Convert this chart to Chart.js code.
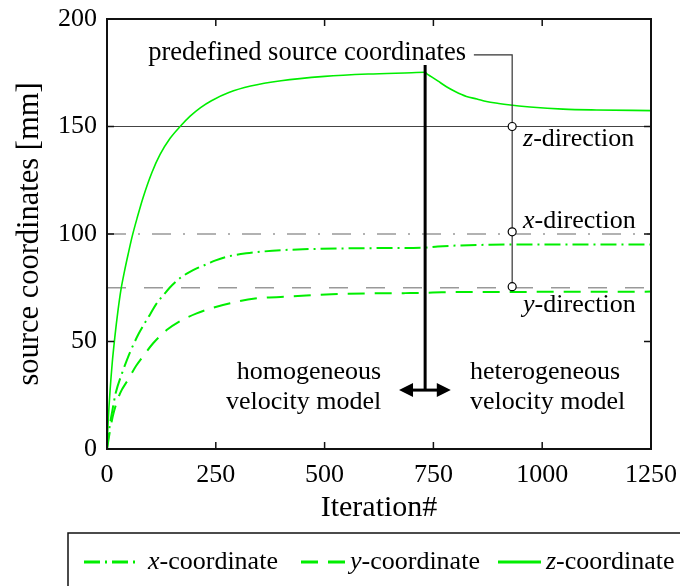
<!DOCTYPE html>
<html>
<head>
<meta charset="utf-8">
<script src="https://cdn.jsdelivr.net/npm/chart.js@4.4.0/dist/chart.umd.min.js"></script>
<style>
  html, body { margin: 0; padding: 0; background: #fff; }
  #wrap { width: 680px; height: 586px; }
</style>
</head>
<body>
<div id="wrap"><canvas id="myChart" width="680" height="586"></canvas></div>
<script>
const SERIF = '"Liberation Serif", "DejaVu Serif", serif';
const GREEN = '#00ee00';

// data
const xIter = [0, 5, 12, 20, 35, 45, 55, 73, 87, 99, 113, 133, 150, 172, 206, 230, 248, 275, 320, 380, 450, 550, 650, 730, 760, 800, 880, 1000, 1250];
const xValues = [0, 9, 17.5, 26, 35.5, 41, 46, 53.7, 58.7, 62.6, 67.4, 72.4, 76.3, 80.1, 84, 86, 87.6, 89.4, 91, 92.2, 92.9, 93.3, 93.5, 93.7, 94.2, 94.6, 95, 95.1, 95.1];

const yIter = [0, 4, 10, 16, 30, 48, 67, 85, 106, 137, 168, 206, 240, 283, 340, 428, 516, 600, 685, 730, 769, 853, 1000, 1250];
const yValues = [0, 5, 12, 17.4, 25.9, 32.1, 38.7, 43.7, 49.2, 55.3, 59.5, 63.1, 65.5, 67.8, 70, 71, 72, 72.4, 72.5, 72.6, 72.9, 73, 73.1, 73.2];

const zIter = [0, 1, 3, 7, 12, 18, 25, 32, 40, 49, 58, 70, 83, 103, 122, 145, 168, 191, 215, 240, 280, 330, 400, 500, 600, 700, 730, 735, 745, 760, 780, 800, 826, 850, 872, 900, 922, 972, 1048, 1125, 1250];
const zValues = [0, 5.5, 14, 27, 40, 52, 64, 74, 82.5, 91, 99, 108, 117, 128.5, 137, 144.5, 150, 154.8, 158.8, 162, 165.8, 168.8, 171.3, 173.3, 174.4, 175, 175.2, 174.5, 173.2, 171.2, 168.5, 166.3, 164, 162.8, 161.6, 160.7, 160.1, 159.1, 158.1, 157.7, 157.4];

const xTicks = [0, 250, 500, 750, 1000, 1250];
const yTicks = [0, 50, 100, 150, 200];

// predefined source coordinates (z, x, y)
const refValues = [150, 100, 75];
const refMarkers = [150, 101, 75.5];
const switchIter = 731;

const refStyles = [
  { color: '#444', width: 1, dash: [] },
  { color: '#999', width: 1.3, dash: [19, 12, 2, 12] },
  { color: '#999', width: 1.3, dash: [19, 18] }
];

function pts(xs, ys) { return xs.map((v, i) => ({ x: v, y: ys[i] })); }

function richText(ctx, parts, x, y, align, size) {
  const fonts = parts.map(p => (p[1] ? 'italic ' : '') + (size || 26) + 'px ' + SERIF);
  const widths = parts.map((p, i) => { ctx.font = fonts[i]; return ctx.measureText(p[0]).width; });
  const total = widths.reduce((a, b) => a + b, 0);
  let cx = align === 'right' ? x - total : (align === 'center' ? x - total / 2 : x);
  ctx.textAlign = 'left';
  ctx.textBaseline = 'middle';
  ctx.fillStyle = '#000';
  parts.forEach((p, i) => { ctx.font = fonts[i]; ctx.fillText(p[0], cx, y); cx += widths[i]; });
}

const overlay = {
  id: 'overlay',
  beforeDatasetsDraw(chart) {
    const { ctx, chartArea: a, scales: { y } } = chart;
    ctx.save();
    refValues.forEach((v, i) => {
      const st = refStyles[i];
      const py = y.getPixelForValue(v);
      ctx.strokeStyle = st.color;
      ctx.lineWidth = st.width;
      ctx.setLineDash(st.dash);
      ctx.beginPath();
      ctx.moveTo(a.left, py);
      ctx.lineTo(a.right, py);
      ctx.stroke();
    });
    ctx.restore();
  },
  afterDatasetsDraw(chart) {
    const { ctx, chartArea: a, scales: { x, y } } = chart;
    ctx.save();
    ctx.setLineDash([]);

    // frame + inward ticks + tick labels
    ctx.strokeStyle = '#111';
    ctx.lineWidth = 2;
    ctx.strokeRect(a.left, a.top, a.width, a.height);
    ctx.lineWidth = 1.5;
    xTicks.forEach(t => {
      const px = x.getPixelForValue(t);
      ctx.beginPath();
      ctx.moveTo(px, a.bottom); ctx.lineTo(px, a.bottom - 7);
      ctx.moveTo(px, a.top); ctx.lineTo(px, a.top + 7);
      ctx.stroke();
      richText(ctx, [[String(t), false]], px, a.bottom + 26, 'center');
    });
    yTicks.forEach(t => {
      const py = y.getPixelForValue(t);
      ctx.beginPath();
      ctx.moveTo(a.left, py); ctx.lineTo(a.left + 7, py);
      ctx.moveTo(a.right, py); ctx.lineTo(a.right - 7, py);
      ctx.stroke();
      richText(ctx, [[String(t), false]], a.left - 10, py, 'right');
    });

    // switch between velocity models
    const sx = x.getPixelForValue(switchIter);
    const arrowY = y.getPixelForValue(27.4);
    ctx.strokeStyle = '#000';
    ctx.fillStyle = '#000';
    ctx.lineWidth = 3;
    ctx.beginPath();
    ctx.moveTo(sx, y.getPixelForValue(178.6));
    ctx.lineTo(sx, arrowY);
    ctx.stroke();
    const l = x.getPixelForValue(671), r = x.getPixelForValue(790);
    ctx.beginPath();
    ctx.moveTo(l + 10, arrowY); ctx.lineTo(r - 10, arrowY);
    ctx.stroke();
    ctx.beginPath();
    ctx.moveTo(l, arrowY); ctx.lineTo(l + 14, arrowY - 7); ctx.lineTo(l + 14, arrowY + 7); ctx.closePath();
    ctx.moveTo(r, arrowY); ctx.lineTo(r - 14, arrowY - 7); ctx.lineTo(r - 14, arrowY + 7); ctx.closePath();
    ctx.fill();

    // connector to predefined coordinates
    const cx = x.getPixelForValue(931);
    const cy = y.getPixelForValue(183.3);
    ctx.strokeStyle = '#333';
    ctx.lineWidth = 1.2;
    ctx.beginPath();
    ctx.moveTo(x.getPixelForValue(843), cy);
    ctx.lineTo(cx, cy);
    ctx.lineTo(cx, y.getPixelForValue(refMarkers[2]));
    ctx.stroke();
    ctx.fillStyle = '#fff';
    ctx.strokeStyle = '#000';
    refMarkers.forEach(v => {
      ctx.beginPath();
      ctx.arc(cx, y.getPixelForValue(v), 4, 0, Math.PI * 2);
      ctx.fill();
      ctx.stroke();
    });

    // texts
    richText(ctx, [['predefined source coordinates', false]], x.getPixelForValue(825), y.getPixelForValue(184.2), 'right', 26.5);
    const dx = x.getPixelForValue(956);
    richText(ctx, [['z', true], ['-direction', false]], dx, y.getPixelForValue(144.2), 'left');
    richText(ctx, [['x', true], ['-direction', false]], dx, y.getPixelForValue(106), 'left');
    richText(ctx, [['y', true], ['-direction', false]], dx, y.getPixelForValue(67), 'left');
    richText(ctx, [['homogeneous', false]], x.getPixelForValue(630), y.getPixelForValue(35.8), 'right');
    richText(ctx, [['velocity model', false]], x.getPixelForValue(630), y.getPixelForValue(21.9), 'right');
    richText(ctx, [['heterogeneous', false]], x.getPixelForValue(834), y.getPixelForValue(35.8), 'left');
    richText(ctx, [['velocity model', false]], x.getPixelForValue(834), y.getPixelForValue(21.9), 'left');
    ctx.restore();
  },
  afterDraw(chart) {
    const { ctx, chartArea: a } = chart;
    const top = a.bottom + 84;
    ctx.save();
    ctx.strokeStyle = '#111';
    ctx.lineWidth = 1.5;
    ctx.strokeRect(68, top, 700, 100);
    const layout = [[84, 140, 148], [301, 345, 350], [498, 541, 546]];
    const midY = top + 29;
    chart.data.datasets.forEach((ds, i) => {
      const [x0, x1, tx] = layout[i];
      ctx.strokeStyle = ds.borderColor;
      ctx.lineWidth = 3;
      ctx.setLineDash(ds.borderDash || []);
      ctx.beginPath();
      ctx.moveTo(x0, midY); ctx.lineTo(x1, midY);
      ctx.stroke();
      ctx.setLineDash([]);
      richText(ctx, [[ds.label.charAt(0), true], [ds.label.slice(1), false]], tx, midY, 'left');
    });
    ctx.restore();
  }
};

new Chart(document.getElementById('myChart'), {
  type: 'line',
  data: {
    datasets: [{
      label: 'x-coordinate',
      data: pts(xIter, xValues),
      borderColor: GREEN,
      borderWidth: 2,
      borderDash: [16, 5, 2, 5],
      pointRadius: 0,
      cubicInterpolationMode: 'monotone'
    }, {
      label: 'y-coordinate',
      data: pts(yIter, yValues),
      borderColor: GREEN,
      borderWidth: 2,
      borderDash: [17, 10],
      pointRadius: 0,
      cubicInterpolationMode: 'monotone'
    }, {
      label: 'z-coordinate',
      data: pts(zIter, zValues),
      borderColor: GREEN,
      borderWidth: 1.6,
      pointRadius: 0,
      cubicInterpolationMode: 'monotone'
    }]
  },
  options: {
    responsive: false,
    animation: false,
    layout: { padding: { top: 19, right: 29, left: 0, bottom: 0 } },
    plugins: { legend: { display: false }, tooltip: { enabled: false } },
    scales: {
      x: {
        type: 'linear',
        min: 0,
        max: 1250,
        afterFit(s) { s.height = 137; },
        grid: { display: false, drawTicks: false },
        border: { display: false },
        ticks: { display: false },
        title: { display: true, text: 'Iteration#', color: '#000', padding: { bottom: 60 }, font: { family: SERIF, size: 30 } }
      },
      y: {
        min: 0,
        max: 200,
        afterFit(s) { s.width = 107; },
        grid: { display: false, drawTicks: false },
        border: { display: false },
        ticks: { display: false },
        title: { display: true, text: 'source coordinates [mm]', color: '#000', padding: { top: 12 }, font: { family: SERIF, size: 30.5 } }
      }
    }
  },
  plugins: [overlay]
});
</script>
</body>
</html>
